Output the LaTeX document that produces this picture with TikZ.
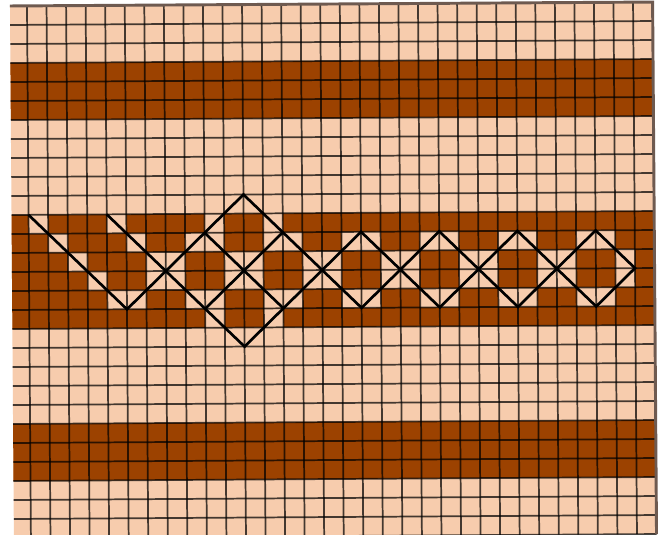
\documentclass[tikz,border=0pt]{standalone}
\definecolor{peach}{RGB}{247,204,173}
\definecolor{rust}{RGB}{156,66,0}
\definecolor{edgecol}{RGB}{110,90,80}
\tikzset{
  gline/.style={draw=black,draw opacity=0.72,line width=1.3pt},
  edgeline/.style={draw=edgecol,line width=2.2pt},
  diagline/.style={draw=black,line width=2pt,line join=miter},
}
\begin{document}
\begin{tikzpicture}[x=0.75pt,y=-0.75pt]
\useasboundingbox (0,0) rectangle (662,535);
\fill[white] (0,0) rectangle (662,535);
\clip (0,0) rectangle (662,535);
\begin{scope}[x=1pt,y=1pt,cm={14.6625,0.09,0.105,-14.25,(5.5875pt,-4.5pt)}]
  % base and bands
  \fill[peach] (0.13,0) rectangle (33,28);
  \fill[rust] (0.13,3) rectangle (33,6);
  \fill[rust] (0.13,11) rectangle (33,17);
  \fill[rust] (0.13,22) rectangle (33,25);
  % light cells of the middle band
  \foreach \r/\cs in {
      11/{1,5,10,13},
      12/{2,6,9,10,13,14,17,18,21,22,25,26,29,30},
      13/{3,7,8,11,12,15,16,19,20,23,24,27,28,31},
      14/{4,7,8,11,12,15,16,19,20,23,24,27,28,31},
      15/{5,6,9,10,13,14,17,18,21,22,25,26,29,30},
      16/{10,13}}
    \foreach \c in \cs
      \fill[peach] (\c,\r) rectangle ++(1,1);
  % grid
  \foreach \i in {1,...,32}
    \draw[gline] (\i,0) -- (\i,28);
  \foreach \j in {1,...,28}
    \draw[gline] (0.13,\j) -- (33,\j);
  \draw[edgeline] (0.13,0) -- (33,0) -- (33,28);
  % diagonals
  \draw[diagline] (1,11) -- (6,16) -- (12,10) -- (18,16) -- (22,12) -- (26,16)
    -- (30,12) -- (32,14) -- (30,16) -- (26,12) -- (22,16) -- (18,12)
    -- (12,18) -- (5,11);
  \draw[diagline] (10,12) -- (14,16);
  \draw[diagline] (10,16) -- (14,12);
\end{scope}
\end{tikzpicture}
\end{document}
